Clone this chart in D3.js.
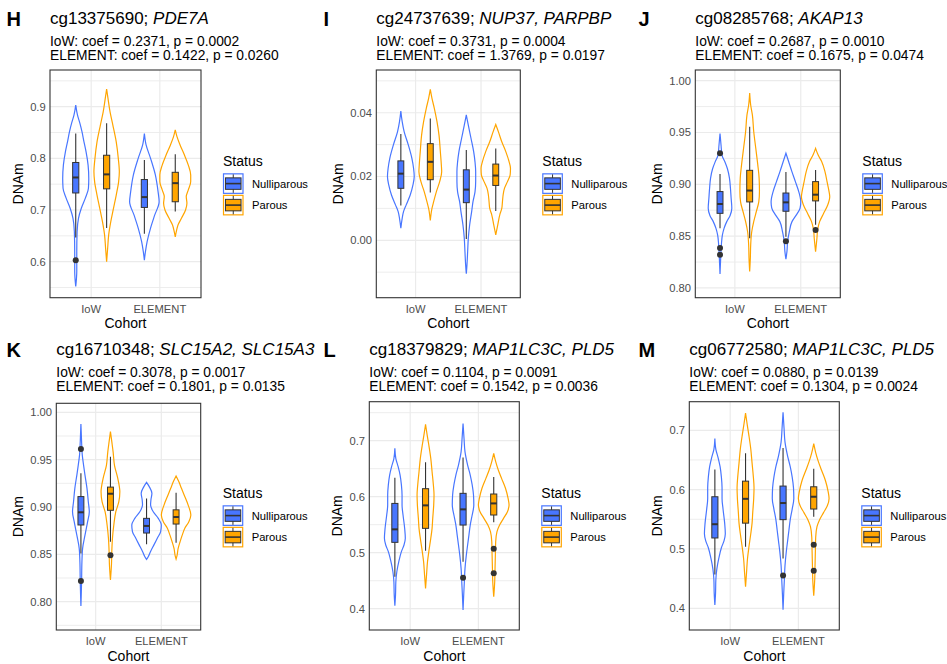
<!DOCTYPE html>
<html lang="en">
<head>
<meta charset="UTF-8">
<title>DNAm by cohort and parity</title>
<script src="https://d3js.org/d3.v7.min.js"></script>
<style>
  body { margin: 0; background: #fff; }
  svg { font-family: "Liberation Sans", Arial, sans-serif; }
</style>
</head>
<body>
<svg id="chart" width="947" height="664"></svg>
<script>
var cohorts = ["IoW", "ELEMENT"];
var statuses = ["Nulliparous", "Parous"];
var statusColors = ["#4876FF", "#FFA500"];

var panelLetters = ["H", "I", "J", "K", "L", "M"];
var probeIds = ["cg13375690", "cg24737639", "cg08285768", "cg16710348", "cg18379829", "cg06772580"];
var geneNames = ["PDE7A", "NUP37, PARPBP", "AKAP13", "SLC15A2, SLC15A3", "MAP1LC3C, PLD5", "MAP1LC3C, PLD5"];
var iowCoef = ["0.2371", "0.3731", "0.2687", "0.3078", "0.1104", "0.0880"];
var iowP = ["0.0002", "0.0004", "0.0010", "0.0017", "0.0091", "0.0139"];
var elementCoef = ["0.1422", "1.3769", "0.1675", "0.1801", "0.1542", "0.1304"];
var elementP = ["0.0260", "0.0197", "0.0474", "0.0135", "0.0036", "0.0024"];

var yTicks = [
  [0.6, 0.7, 0.8, 0.9],
  [0, 0.02, 0.04],
  [0.8, 0.85, 0.9, 0.95, 1.0],
  [0.8, 0.85, 0.9, 0.95, 1.0],
  [0.4, 0.5, 0.6, 0.7],
  [0.4, 0.5, 0.6, 0.7]
];
var tickDigits = [1, 2, 2, 2, 1, 1];
var yLimits = [
  [0.5303, 0.971],
  [-0.018, 0.0534],
  [0.7906, 1.0103],
  [0.7701, 1.0095],
  [0.362, 0.7696],
  [0.3634, 0.7482]
];

// violin profiles: [DNAm, density]; order IoW-Nulliparous, IoW-Parous, ELEMENT-Nulliparous, ELEMENT-Parous
var violinsH = [
  [[0.903,0],[0.884,5],[0.868,12],[0.852,18],[0.832,24],[0.813,30],[0.787,36],[0.761,38],[0.742,37],[0.723,28],[0.703,16],[0.684,8],[0.658,4],[0.619,3],[0.581,3],[0.552,0]],
  [[0.934,0],[0.916,4],[0.890,10],[0.865,18],[0.832,28],[0.800,34],[0.774,37],[0.755,35],[0.729,28],[0.703,20],[0.677,12],[0.652,6],[0.626,3],[0.600,0]],
  [[0.848,0],[0.826,5],[0.800,18],[0.768,32],[0.735,40],[0.716,43],[0.690,30],[0.665,18],[0.639,8],[0.619,3],[0.603,0]],
  [[0.855,0],[0.842,5],[0.826,14],[0.806,27],[0.787,38],[0.768,45],[0.755,45],[0.739,38],[0.726,32],[0.713,34],[0.700,30],[0.684,18],[0.671,8],[0.658,3],[0.648,0]]
];
var violinsI = [
  [[0.0405,0],[0.0372,4],[0.034,10],[0.030,22],[0.0257,33],[0.0226,38],[0.020,40],[0.0173,36],[0.0142,28],[0.0111,16],[0.009,8],[0.0069,4],[0.0038,0]],
  [[0.0473,0],[0.0445,5],[0.0414,12],[0.0372,20],[0.033,26],[0.0278,30],[0.0236,33],[0.0215,34],[0.0184,28],[0.0152,18],[0.0121,10],[0.010,5],[0.0062,0]],
  [[0.0393,0],[0.0361,6],[0.032,14],[0.0278,22],[0.0246,26],[0.0215,28],[0.0184,28],[0.0152,26],[0.0121,20],[0.009,16],[0.0048,10],[0.0006,6],[-0.0036,4],[-0.0077,2],[-0.0105,0]],
  [[0.0363,0],[0.034,8],[0.0309,18],[0.0278,30],[0.0246,40],[0.0226,44],[0.0205,43],[0.0184,35],[0.0163,26],[0.0142,22],[0.0121,20],[0.010,18],[0.008,12],[0.0048,6],[0.0017,0]]
];
var violinsJ = [
  [[0.949,0],[0.938,3],[0.928,6],[0.922,14],[0.915,22],[0.906,28],[0.896,31],[0.8865,33],[0.877,35],[0.870,30],[0.864,20],[0.8575,12],[0.851,7],[0.8415,4],[0.829,2],[0.8135,0]],
  [[0.988,0],[0.9765,3],[0.967,8],[0.951,12],[0.935,18],[0.919,24],[0.906,28],[0.893,29],[0.883,27],[0.874,20],[0.864,12],[0.854,6],[0.8415,3],[0.829,2],[0.816,0]],
  [[0.930,0],[0.922,8],[0.912,18],[0.9026,28],[0.893,38],[0.883,44],[0.877,42],[0.870,30],[0.864,18],[0.854,10],[0.8447,5],[0.835,3],[0.8277,0]],
  [[0.9347,0],[0.928,8],[0.922,18],[0.912,28],[0.9026,34],[0.893,40],[0.888,42],[0.880,36],[0.872,24],[0.864,12],[0.856,6],[0.848,4],[0.835,0]]
];
var violinsK = [
  [[0.9877,0],[0.969,2],[0.955,4],[0.944,8],[0.934,12],[0.920,18],[0.9056,22],[0.895,25],[0.8845,20],[0.870,12],[0.856,5],[0.842,3],[0.821,2],[0.7954,0]],
  [[0.9796,0],[0.969,4],[0.958,8],[0.944,12],[0.930,22],[0.916,28],[0.9056,25],[0.895,16],[0.881,10],[0.867,6],[0.853,4],[0.839,3],[0.823,0]],
  [[0.926,0],[0.9215,8],[0.9144,16],[0.9074,13],[0.902,12],[0.895,20],[0.888,35],[0.881,44],[0.874,42],[0.867,32],[0.860,22],[0.853,12],[0.8475,5],[0.8447,0]],
  [[0.9327,0],[0.9268,8],[0.9197,16],[0.9127,24],[0.902,36],[0.8915,44],[0.8845,38],[0.8775,26],[0.870,18],[0.8634,12],[0.856,6],[0.849,3],[0.845,0]]
];
// L and M show the same values
var violinsLM = [
  [[0.6863,0],[0.668,3],[0.6536,10],[0.6387,16],[0.621,20],[0.603,22],[0.585,22],[0.5673,25],[0.5435,30],[0.5256,32],[0.5137,28],[0.502,20],[0.484,12],[0.466,6],[0.4482,3],[0.4244,2],[0.4054,0]],
  [[0.729,0],[0.710,5],[0.6923,10],[0.6685,16],[0.6446,20],[0.621,24],[0.603,26],[0.585,25],[0.5613,22],[0.5435,20],[0.5256,16],[0.502,10],[0.484,6],[0.460,3],[0.4363,0]],
  [[0.7304,0],[0.704,3],[0.680,6],[0.6565,14],[0.6387,22],[0.621,28],[0.603,32],[0.585,33],[0.5673,28],[0.5494,22],[0.5315,18],[0.5137,14],[0.4958,10],[0.472,6],[0.4482,4],[0.4244,2],[0.3976,0]],
  [[0.6774,0],[0.6625,6],[0.6476,14],[0.6327,24],[0.615,36],[0.597,44],[0.585,47],[0.5732,42],[0.5613,30],[0.5494,18],[0.5375,10],[0.5196,6],[0.4958,5],[0.472,4],[0.4482,3],[0.4214,0]]
];

// boxplots: [lower whisker, Q1, median, Q3, upper whisker]
var boxesH = [[0.647,0.733,0.763,0.792,0.848],[0.665,0.741,0.769,0.806,0.868],[0.654,0.705,0.725,0.759,0.797],[0.697,0.716,0.752,0.773,0.808]];
var boxesI = [[0.0109,0.0163,0.0209,0.0249,0.0333],[0.0150,0.0190,0.0246,0.0303,0.0382],[0.0004,0.0118,0.0159,0.0221,0.0283],[0.0092,0.0172,0.0203,0.0239,0.0288]];
var boxesJ = [[0.8575,0.872,0.881,0.893,0.910],[0.848,0.883,0.894,0.9135,0.9556],[0.8495,0.874,0.8826,0.8916,0.912],[0.861,0.884,0.890,0.9026,0.9138]];
var boxesK = [[0.851,0.881,0.8944,0.911,0.9356],[0.8634,0.8965,0.914,0.921,0.953],[0.8606,0.8725,0.880,0.888,0.909],[0.8623,0.882,0.8894,0.897,0.9151]];
var boxesLM = [[0.4571,0.5185,0.5417,0.588,0.634],[0.5036,0.5435,0.5845,0.6143,0.6613],[0.484,0.5494,0.5774,0.606,0.670],[0.5542,0.5673,0.588,0.6048,0.6351]];

var outliersH = [[0.603], [], [], []];
var outliersI = [[], [], [], []];
var outliersJ = [[0.930, 0.8386, 0.832], [], [0.845], [0.856]];
var outliersK = [[0.9613, 0.8218], [0.849], [], []];
var outliersLM = [[], [], [0.4554], [0.5071, 0.4631]];

var violinSets = [violinsH, violinsI, violinsJ, violinsK, violinsLM, violinsLM];
var boxSets = [boxesH, boxesI, boxesJ, boxesK, boxesLM, boxesLM];
var outlierSets = [outliersH, outliersI, outliersJ, outliersK, outliersLM, outliersLM];

// panel placement
var layout = [
  {left: 50,    right: 201,   top: 70,    bottom: 297.7, letterX: 6.5,   yTitleX: 22.5,  row: 0},
  {left: 376.3, right: 520.3, top: 70,    bottom: 297.7, letterX: 323.5, yTitleX: 342.7, row: 0},
  {left: 695.3, right: 840.3, top: 70,    bottom: 297.7, letterX: 638.5, yTitleX: 662.3, row: 0},
  {left: 56.3,  right: 200.7, top: 403.3, bottom: 630,   letterX: 6.5,   yTitleX: 22.7,  row: 1},
  {left: 369.3, right: 519.3, top: 401.7, bottom: 630,   letterX: 323.5, yTitleX: 342.3, row: 1},
  {left: 689.3, right: 839.3, top: 401.7, bottom: 630,   letterX: 638.5, yTitleX: 662.3, row: 1}
];
var rowTitleY = [24, 355];
var rowPanelMid = [183.85, 515.85];

var svg = d3.select("#chart");
var gridColor = "#EBEBEB";
var dark = "#333333";

for (var i = 0; i < 6; i++) {
  var L = layout[i];
  var g = svg.append("g");

  var x = d3.scalePoint().domain(cohorts).range([L.left, L.right]).padding(0.6);
  var step = x.step();
  var y = d3.scaleLinear().domain(yLimits[i]).range([L.bottom, L.top]);

  var ticks = yTicks[i];
  var tStep = ticks[1] - ticks[0];
  var minor = d3.range(ticks[0] - tStep / 2, ticks[ticks.length - 1] + tStep, tStep)
    .filter(function (v) { return v >= yLimits[i][0] && v <= yLimits[i][1]; });

  // grid
  g.selectAll(".minor").data(minor).enter().append("line")
    .attr("x1", L.left).attr("x2", L.right)
    .attr("y1", function (d) { return y(d); }).attr("y2", function (d) { return y(d); })
    .attr("stroke", gridColor).attr("stroke-width", 0.9);
  g.selectAll(".major").data(ticks).enter().append("line")
    .attr("x1", L.left).attr("x2", L.right)
    .attr("y1", function (d) { return y(d); }).attr("y2", function (d) { return y(d); })
    .attr("stroke", gridColor).attr("stroke-width", 1.2);
  g.selectAll(".xgrid").data(cohorts).enter().append("line")
    .attr("x1", function (d) { return x(d); }).attr("x2", function (d) { return x(d); })
    .attr("y1", L.top).attr("y2", L.bottom)
    .attr("stroke", gridColor).attr("stroke-width", 1.2);

  // violins
  var vio = violinSets[i];
  var maxD = d3.max(vio, function (v) { return d3.max(v, function (p) { return p[1]; }); });
  var w = d3.scaleLinear().domain([0, maxD]).range([0, 0.225 * step]);

  for (var k = 0; k < 4; k++) {
    var c = cohorts[Math.floor(k / 2)];
    var s = k % 2;
    var cx = x(c) + (s - 0.5) * 0.45 * step;
    var area = d3.area()
      .y(function (p) { return y(p[0]); })
      .x0((function (cx) { return function (p) { return cx - w(p[1]); }; })(cx))
      .x1((function (cx) { return function (p) { return cx + w(p[1]); }; })(cx))
      .curve(d3.curveMonotoneY);
    g.append("path")
      .attr("d", area(vio[k]))
      .attr("fill", "none")
      .attr("stroke", statusColors[s])
      .attr("stroke-width", 1.2);
  }

  // boxplots
  var bw = 0.09 * step;
  for (var k = 0; k < 4; k++) {
    var c = cohorts[Math.floor(k / 2)];
    var s = k % 2;
    var cx = x(c) + (s - 0.5) * 0.45 * step;
    var b = boxSets[i][k];
    g.append("line")
      .attr("x1", cx).attr("x2", cx).attr("y1", y(b[0])).attr("y2", y(b[4]))
      .attr("stroke", dark).attr("stroke-width", 1.1);
    g.append("rect")
      .attr("x", cx - bw / 2).attr("width", bw)
      .attr("y", y(b[3])).attr("height", y(b[1]) - y(b[3]))
      .attr("fill", statusColors[s]).attr("stroke", dark).attr("stroke-width", 1);
    g.append("line")
      .attr("x1", cx - bw / 2).attr("x2", cx + bw / 2).attr("y1", y(b[2])).attr("y2", y(b[2]))
      .attr("stroke", dark).attr("stroke-width", 2);
    g.selectAll(null).data(outlierSets[i][k]).enter().append("circle")
      .attr("cx", cx).attr("cy", function (d) { return y(d); })
      .attr("r", 3).attr("fill", dark);
  }

  // panel border
  g.append("rect")
    .attr("x", L.left).attr("y", L.top)
    .attr("width", L.right - L.left).attr("height", L.bottom - L.top)
    .attr("fill", "none").attr("stroke", dark).attr("stroke-width", 1.1);

  // axis labels
  var fmt = d3.format("." + tickDigits[i] + "f");
  g.selectAll(".ytick").data(ticks).enter().append("text")
    .attr("x", L.left - 4.3).attr("y", function (d) { return y(d); })
    .attr("dy", "0.35em").attr("text-anchor", "end")
    .attr("font-size", 11.2).attr("fill", "#4D4D4D")
    .text(fmt);
  g.selectAll(".xtick").data(cohorts).enter().append("text")
    .attr("x", function (d) { return x(d); }).attr("y", L.bottom + 15.3)
    .attr("text-anchor", "middle")
    .attr("font-size", 11.2).attr("fill", "#4D4D4D")
    .text(function (d) { return d; });
  g.append("text")
    .attr("x", (L.left + L.right) / 2).attr("y", L.bottom + 30.5)
    .attr("text-anchor", "middle").attr("font-size", 14)
    .text("Cohort");
  g.append("text")
    .attr("transform", "translate(" + L.yTitleX + "," + (L.top + L.bottom) / 2 + ") rotate(-90)")
    .attr("text-anchor", "middle").attr("font-size", 14)
    .text("DNAm");

  // titles
  var ty = rowTitleY[L.row];
  g.append("text")
    .attr("x", L.letterX).attr("y", ty + 2)
    .attr("font-size", 20).attr("font-weight", "bold")
    .text(panelLetters[i]);
  var title = g.append("text").attr("x", L.left).attr("y", ty).attr("font-size", 17);
  title.append("tspan").text(probeIds[i] + "; ");
  title.append("tspan").attr("font-style", "italic").text(geneNames[i]);
  g.append("text")
    .attr("x", L.left).attr("y", ty + 22.2).attr("font-size", 13.8)
    .text("IoW: coef = " + iowCoef[i] + ", p = " + iowP[i]);
  g.append("text")
    .attr("x", L.left).attr("y", ty + 36.2).attr("font-size", 13.8)
    .text("ELEMENT: coef = " + elementCoef[i] + ", p = " + elementP[i]);

  // legend
  var lx = L.right + 22;
  var mid = rowPanelMid[L.row];
  g.append("text")
    .attr("x", lx).attr("y", mid - 18.2)
    .attr("font-size", 14).text("Status");
  for (var s = 0; s < 2; s++) {
    var ky = mid - 10.5 + s * 21.5;
    var ks = 20.5;
    g.append("rect")
      .attr("x", lx + 0.5).attr("y", ky + 0.5).attr("width", ks - 1).attr("height", ks - 1)
      .attr("fill", "none").attr("stroke", statusColors[s]).attr("stroke-width", 1.2);
    g.append("line")
      .attr("x1", lx + ks / 2).attr("x2", lx + ks / 2)
      .attr("y1", ky + ks * 0.05).attr("y2", ky + ks * 0.95)
      .attr("stroke", dark).attr("stroke-width", 1);
    g.append("rect")
      .attr("x", lx + ks * 0.12).attr("y", ky + ks * 0.22)
      .attr("width", ks * 0.76).attr("height", ks * 0.56)
      .attr("fill", statusColors[s]).attr("stroke", dark).attr("stroke-width", 1);
    g.append("line")
      .attr("x1", lx + ks * 0.12).attr("x2", lx + ks * 0.88)
      .attr("y1", ky + ks / 2).attr("y2", ky + ks / 2)
      .attr("stroke", dark).attr("stroke-width", 1.6);
    g.append("text")
      .attr("x", lx + 29).attr("y", ky + ks / 2).attr("dy", "0.35em")
      .attr("font-size", 11.2).text(statuses[s]);
  }
}
</script>
</body>
</html>
